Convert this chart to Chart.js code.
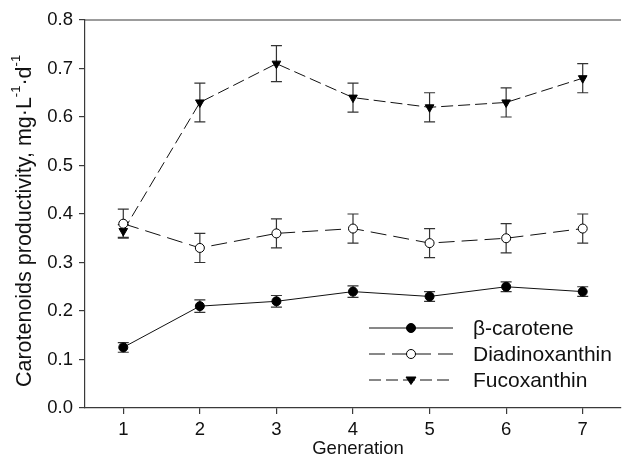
<!DOCTYPE html>
<html>
<head>
<meta charset="utf-8">
<script src="https://cdn.jsdelivr.net/npm/chart.js@4.4.1/dist/chart.umd.min.js"></script>
<style>
  html, body { margin: 0; padding: 0; background: #fff; }
  #wrap { width: 627px; height: 463px; }
</style>
</head>
<body>
<div id="wrap"><canvas id="chart" width="627" height="463"></canvas></div>
<script>
// generations on the x axis
const generations = [1, 2, 3, 4, 5, 6, 7];

// values (mg/L/d)
const betaCarotene = [0.125, 0.21, 0.22, 0.24, 0.23, 0.25, 0.24];
const betaErr = [0.01, 0.013, 0.012, 0.012, 0.01, 0.01, 0.01];

const diadinoxanthin = [0.38, 0.33, 0.36, 0.37, 0.34, 0.35, 0.37];
const diadinoErr = [0.03, 0.03, 0.03, 0.03, 0.03, 0.03, 0.03];

const fucoxanthin = [0.365, 0.63, 0.71, 0.64, 0.62, 0.63, 0.68];
const fucoErr = [0.013, 0.04, 0.037, 0.03, 0.03, 0.03, 0.03];

const yTicks = [0.0, 0.1, 0.2, 0.3, 0.4, 0.5, 0.6, 0.7, 0.8];

const FONT = 'Arial, "Liberation Sans", sans-serif';
const AXIS = '#3a3a3a';

const toPoints = (vals, errs) => vals.map((v, i) => ({ x: generations[i], y: v, err: errs[i] }));

// error bars, drawn under the markers
const errorBars = {
    id: 'errorBars',
    beforeDatasetsDraw(chart) {
        const ctx = chart.ctx;
        const xs = chart.scales.x, ys = chart.scales.y;
        ctx.save();
        ctx.strokeStyle = '#333';
        ctx.lineWidth = 1.2;
        chart.data.datasets.forEach(ds => {
            ds.data.forEach(p => {
                const px = xs.getPixelForValue(p.x);
                const top = ys.getPixelForValue(p.y + p.err);
                const bot = ys.getPixelForValue(p.y - p.err);
                ctx.beginPath();
                ctx.moveTo(px, top); ctx.lineTo(px, bot);
                ctx.moveTo(px - 5.5, top); ctx.lineTo(px + 5.5, top);
                ctx.moveTo(px - 5.5, bot); ctx.lineTo(px + 5.5, bot);
                ctx.stroke();
            });
        });
        ctx.restore();
    }
};

const drawMarker = (ctx, ds, x, y) => {
    ctx.save();
    ctx.fillStyle = ds.pointBackgroundColor;
    ctx.strokeStyle = ds.pointBorderColor;
    ctx.lineWidth = 1;
    ctx.setLineDash([]);
    ctx.beginPath();
    if (ds.pointStyle === 'triangle') {
        const r = ds.pointRadius;
        ctx.moveTo(x - r, y - r * 0.6);
        ctx.lineTo(x + r, y - r * 0.6);
        ctx.lineTo(x, y + r * 0.9);
        ctx.closePath();
    } else {
        ctx.arc(x, y, ds.pointRadius, 0, Math.PI * 2);
    }
    ctx.fill();
    ctx.stroke();
    ctx.restore();
};

// frame top line, axis titles and the inset legend
const decorations = {
    id: 'decorations',
    afterDraw(chart) {
        const ctx = chart.ctx;
        const a = chart.chartArea;
        ctx.save();
        ctx.strokeStyle = AXIS;
        ctx.lineWidth = 1.2;
        ctx.beginPath();
        ctx.moveTo(a.left, a.top);
        ctx.lineTo(a.right, a.top);
        ctx.stroke();

        // x title
        ctx.fillStyle = '#111';
        ctx.font = '18.5px ' + FONT;
        ctx.textAlign = 'center';
        ctx.textBaseline = 'middle';
        ctx.fillText('Generation', 358, 449);

        // y title with superscripts
        const parts = [
            ['Carotenoids productivity, mg\u00b7L', false],
            ['-1', true],
            ['\u00b7d', false],
            ['-1', true]
        ];
        const big = '21.5px ' + FONT, small = '13px ' + FONT;
        let total = 0;
        parts.forEach(([t, sup]) => { ctx.font = sup ? small : big; total += ctx.measureText(t).width; });
        ctx.translate(25, 221);
        ctx.rotate(-Math.PI / 2);
        ctx.textAlign = 'left';
        ctx.textBaseline = 'middle';
        let cx = -total / 2;
        parts.forEach(([t, sup]) => {
            ctx.font = sup ? small : big;
            ctx.fillText(t, cx, sup ? -9 : 0);
            cx += ctx.measureText(t).width;
        });
        ctx.restore();

        // legend inside the plot
        ctx.save();
        const x0 = a.left + 284, x1 = a.left + 368, tx = a.left + 388;
        const rows = [a.top + 308, a.top + 334, a.top + 360];
        chart.data.datasets.forEach((ds, i) => {
            const y = rows[i];
            ctx.strokeStyle = ds.borderColor;
            ctx.lineWidth = ds.borderWidth;
            ctx.setLineDash(ds.borderDash || []);
            ctx.beginPath();
            ctx.moveTo(x0, y); ctx.lineTo(x1, y);
            ctx.stroke();
            drawMarker(ctx, ds, (x0 + x1) / 2, y);
            ctx.fillStyle = '#111';
            ctx.font = '21px ' + FONT;
            ctx.textAlign = 'left';
            ctx.textBaseline = 'middle';
            ctx.fillText(ds.label, tx, y + 1);
        });
        ctx.restore();
    }
};

new Chart(document.getElementById('chart'), {
    type: 'line',
    data: {
        datasets: [{
            label: '\u03b2-carotene',
            data: toPoints(betaCarotene, betaErr),
            borderColor: '#111',
            borderWidth: 1,
            pointStyle: 'circle',
            pointRadius: 4.5,
            pointBackgroundColor: '#000',
            pointBorderColor: '#000',
            tension: 0
        }, {
            label: 'Diadinoxanthin',
            data: toPoints(diadinoxanthin, diadinoErr),
            borderColor: '#111',
            borderWidth: 1,
            borderDash: [16, 7],
            pointStyle: 'circle',
            pointRadius: 4.5,
            pointBackgroundColor: '#fff',
            pointBorderColor: '#000',
            tension: 0
        }, {
            label: 'Fucoxanthin',
            data: toPoints(fucoxanthin, fucoErr),
            borderColor: '#111',
            borderWidth: 1,
            borderDash: [12, 5],
            pointStyle: 'triangle',
            rotation: 180,
            pointRadius: 5,
            pointBackgroundColor: '#000',
            pointBorderColor: '#000',
            tension: 0
        }]
    },
    options: {
        responsive: false,
        animation: false,
        events: [],
        layout: { padding: { top: 20, right: 0, left: 0, bottom: 0 } },
        plugins: { legend: { display: false }, tooltip: { enabled: false } },
        scales: {
            x: {
                type: 'linear',
                min: 0.5,
                max: 7.5,
                afterBuildTicks: s => { s.ticks = generations.map(g => ({ value: g })); },
                afterFit: s => { s.height = 55; },
                grid: { display: true, drawOnChartArea: false, drawTicks: true, tickLength: 6, color: AXIS, lineWidth: 1.2 },
                border: { display: true, color: AXIS, width: 1.2 },
                ticks: { color: '#111', font: { family: FONT, size: 18.5 }, padding: 5, maxRotation: 0 }
            },
            y: {
                min: 0,
                max: 0.8,
                afterBuildTicks: s => { s.ticks = yTicks.map(v => ({ value: v })); },
                afterFit: s => { s.width = 85; },
                grid: { display: true, drawOnChartArea: false, drawTicks: true, tickLength: 6, color: AXIS, lineWidth: 1.2 },
                border: { display: true, color: AXIS, width: 1.2 },
                ticks: { color: '#111', font: { family: FONT, size: 18.5 }, padding: 6, callback: v => v.toFixed(1) }
            }
        }
    },
    plugins: [errorBars, decorations]
});
</script>
</body>
</html>
